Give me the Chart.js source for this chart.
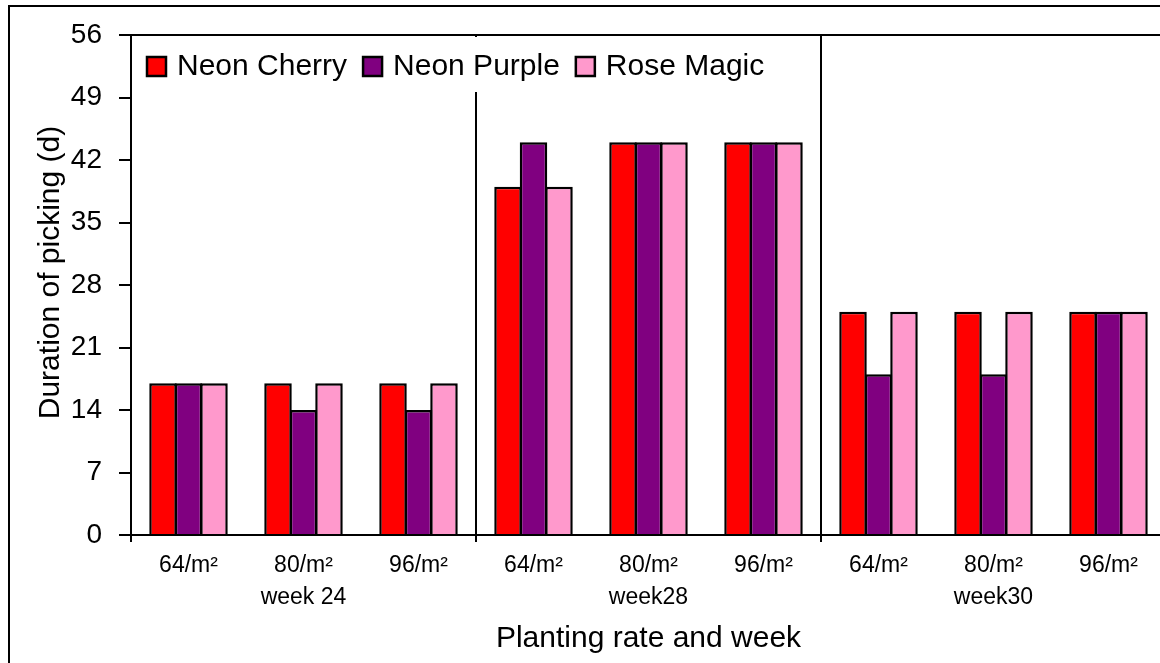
<!DOCTYPE html>
<html>
<head>
<meta charset="utf-8">
<script src="https://cdn.jsdelivr.net/npm/chart.js@4/dist/chart.umd.min.js"></script>
<style>
  html, body { margin: 0; padding: 0; background: #fff; overflow: hidden; }
  canvas { display: block; }
</style>
</head>
<body>
<canvas id="chart" width="1180" height="663"></canvas>
<script>
const RATES = ["64/m²", "80/m²", "96/m²", "64/m²", "80/m²", "96/m²", "64/m²", "80/m²", "96/m²"];
const WEEKS = ["week 24", "week28", "week30"];

const NEON_CHERRY = [17, 17, 17, 39, 44, 44, 25, 25, 25];
const NEON_PURPLE = [17, 14, 14, 44, 44, 44, 18, 18, 25];
const ROSE_MAGIC  = [17, 17, 17, 39, 44, 44, 25, 25, 25];

const Y_MIN = 0;
const Y_MAX = 56;
const Y_STEP = 7;

const COLORS = {
  cherry: "#FF0000",
  purple: "#800080",
  rose: "#FF99CC"
};

Chart.defaults.font.family = "'Liberation Sans', Arial, sans-serif";
Chart.defaults.color = "#000";

/* ---------------- LABELS ---------------- */

// two-line tick labels: rate on top, week under the middle rate of each group
const labels = RATES.map((r, i) => [r, i % 3 === 1 ? WEEKS[Math.floor(i / 3)] : ""]);

const groupLine = ctx => (ctx.index % 3 === 0 ? "#000" : "rgba(0,0,0,0)");

/* ---------------- PLUGINS ---------------- */

const framePlugin = {
  id: "frame",
  afterDraw(chart) {
    const { ctx, chartArea } = chart;
    ctx.save();
    ctx.strokeStyle = "#000";
    ctx.lineWidth = 2;
    // outer frame (runs off the right and bottom edge)
    ctx.strokeRect(9, 6, chart.width + 40, chart.height + 40);
    // top edge of plot area
    ctx.beginPath();
    ctx.moveTo(chartArea.left - 1, chartArea.top);
    ctx.lineTo(chart.width + 10, chartArea.top);
    ctx.stroke();
    ctx.restore();
  }
};

const legendPlugin = {
  id: "insideLegend",
  afterDraw(chart) {
    const { ctx, chartArea } = chart;
    ctx.save();
    ctx.fillStyle = "#fff";
    ctx.fillRect(chartArea.left + 2, chartArea.top + 2, 670, 55);

    ctx.font = "30px 'Liberation Sans', Arial, sans-serif";
    ctx.textBaseline = "middle";
    ctx.textAlign = "left";
    let x = chartArea.left + 16;
    const y = 66;
    chart.data.datasets.forEach(ds => {
      ctx.fillStyle = ds.backgroundColor;
      ctx.fillRect(x, y - 9, 19, 19);
      ctx.strokeStyle = "#000";
      ctx.lineWidth = 2.5;
      ctx.strokeRect(x, y - 9, 19, 19);
      ctx.fillStyle = "#000";
      ctx.fillText(ds.label, x + 30, y + 1);
      x += 30 + ctx.measureText(ds.label).width + 16;
    });
    ctx.restore();
  }
};

/* ---------------- CHART ---------------- */

function dataset(label, data, color) {
  return {
    label: label,
    data: data,
    backgroundColor: color,
    borderColor: "#000",
    borderWidth: 2.5,
    categoryPercentage: 0.665,
    barPercentage: 1.08
  };
}

new Chart(document.getElementById("chart"), {
  type: "bar",
  data: {
    labels: labels,
    datasets: [
      dataset("Neon Cherry", NEON_CHERRY, COLORS.cherry),
      dataset("Neon Purple", NEON_PURPLE, COLORS.purple),
      dataset("Rose Magic", ROSE_MAGIC, COLORS.rose)
    ]
  },
  options: {
    responsive: false,
    animation: false,
    devicePixelRatio: 1,
    layout: { padding: { left: 0, top: 35, right: 14, bottom: 0 } },
    plugins: {
      legend: { display: false },
      tooltip: { enabled: false }
    },
    scales: {
      x: {
        offset: true,
        afterFit: s => { s.height = 128; },
        grid: {
          offset: true,
          color: groupLine,
          tickColor: groupLine,
          lineWidth: 2,
          tickLength: 7
        },
        border: { color: "#000", width: 2 },
        ticks: {
          color: "#000",
          padding: 8,
          maxRotation: 0,
          autoSkip: false,
          font: { size: 23, lineHeight: 1.39 }
        },
        title: {
          display: true,
          text: "Planting rate and week",
          color: "#000",
          font: { size: 30 },
          padding: { top: 0, bottom: 6 }
        }
      },
      y: {
        min: Y_MIN,
        max: Y_MAX,
        afterFit: s => { s.width = 131; },
        grid: {
          drawOnChartArea: false,
          tickColor: "#000",
          lineWidth: 2,
          tickLength: 12
        },
        border: { color: "#000", width: 2 },
        ticks: {
          stepSize: Y_STEP,
          color: "#000",
          padding: 17,
          font: { size: 28 }
        },
        title: {
          display: true,
          text: "   Duration of picking (d)",
          color: "#000",
          font: { size: 30 },
          padding: { top: 33, bottom: 0 }
        }
      }
    }
  },
  plugins: [framePlugin, legendPlugin]
});
</script>
</body>
</html>
